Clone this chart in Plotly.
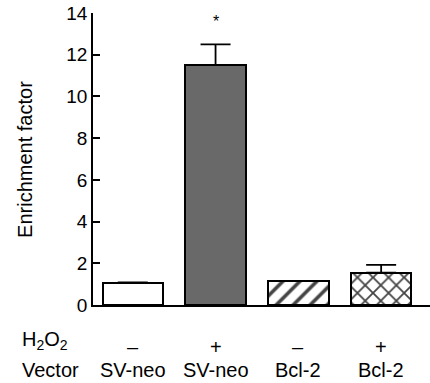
import plotly.graph_objects as go

vectors = ["SV-neo", "SV-neo", "Bcl-2", "Bcl-2"]
h2o2 = ["–", "+", "–", "+"]
values = [1.05, 11.5, 1.15, 1.55]
err_plus = [0.03, 1.0, 0.0, 0.37]
y_ticks = [0, 2, 4, 6, 8, 10, 12, 14]

xpos = list(range(len(values)))
fills = ["white", "#696969", "white", "white"]
shapes = ["", "", "/", "x"]

FAM = "Liberation Sans, Arial, sans-serif"

fig = go.Figure()
fig.add_trace(go.Bar(
    x=xpos, y=values, width=0.73,
    marker=dict(
        color=fills,
        line=dict(color="black", width=2),
        pattern=dict(shape=shapes, fgcolor="black", bgcolor="white", fgopacity=1,
                     size=[12, 12, 12, 11], solidity=0.3),
    ),
    error_y=dict(type="data", symmetric=False, array=err_plus, arrayminus=[0, 0, 0, 0],
                 color="black", thickness=1.8, width=15),
    showlegend=False,
))

font = dict(family=FAM, size=20, color="black")
ann = []
for i, (v, h) in enumerate(zip(vectors, h2o2)):
    ann.append(dict(x=i, y=-0.145, xref="x", yref="paper", text=h, showarrow=False,
                    font=font, xanchor="center", yanchor="middle"))
    ann.append(dict(x=i, y=-0.223, xref="x", yref="paper", text=v, showarrow=False,
                    font=font, xanchor="center", yanchor="middle"))
ann.append(dict(x=-0.2166, y=-0.12, xref="paper", yref="paper", text="H<sub>2</sub>O<sub>2</sub>",
                showarrow=False, font=font, xanchor="left", yanchor="middle"))
ann.append(dict(x=-0.2166, y=-0.223, xref="paper", yref="paper", text="Vector",
                showarrow=False, font=font, xanchor="left", yanchor="middle"))
ann.append(dict(x=-0.202, y=0.5, xref="paper", yref="paper", text="Enrichment factor",
                textangle=-90, showarrow=False, font=font, xanchor="center", yanchor="middle"))
ann.append(dict(x=1, y=13.6, xref="x", yref="y", text="*", showarrow=False,
                font=dict(family=FAM, size=16, color="black"),
                xanchor="center", yanchor="middle"))

fig.update_layout(
    width=430, height=383,
    margin=dict(l=93, r=0, t=13, b=78),
    plot_bgcolor="white", paper_bgcolor="white",
    bargap=0,
    annotations=ann,
    xaxis=dict(range=[-0.48, 3.59], showline=True, linecolor="black", linewidth=1.5,
               showticklabels=False, ticks="", showgrid=False, zeroline=False),
    yaxis=dict(range=[0, 14], tickvals=y_ticks, showline=True, linecolor="black", linewidth=1.5,
               ticks="inside", ticklen=7, tickwidth=1.5, tickcolor="black",
               tickfont=dict(family=FAM, size=19, color="black"),
               ticklabeloverflow="allow",
               showgrid=False, zeroline=False),
)

fig.write_html("out.html", config={"displayModeBar": False},
               post_script="document.body.style.margin='0';document.body.style.overflow='hidden';")
